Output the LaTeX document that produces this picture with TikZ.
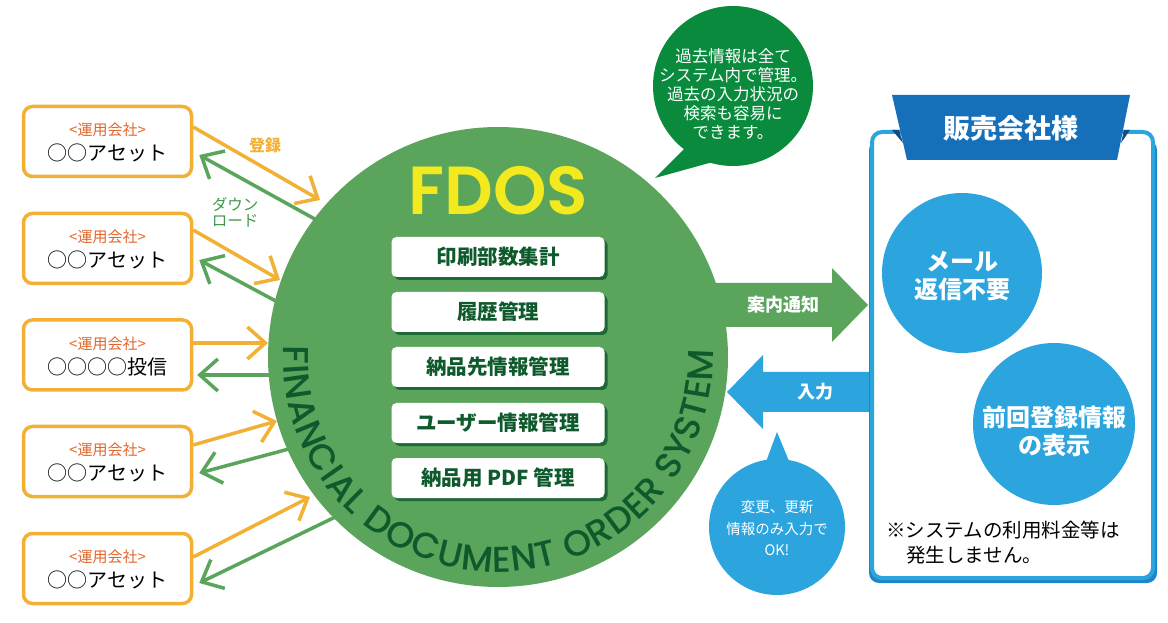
\documentclass[tikz,border=0pt]{standalone}
\usepackage{fontspec}
\setmainfont{Noto Sans CJK JP}
\newfontfamily\pop{Poppins}[UprightFont=* SemiBold]
\newfontfamily\popm{Poppins}[UprightFont=* Medium]
\usetikzlibrary{arrows.meta,decorations.text}
\definecolor{org}{HTML}{F2B134}
\definecolor{runyo}{HTML}{E2672C}
\definecolor{grn}{HTML}{5AA55B}
\definecolor{dkgrn}{HTML}{0E5A2C}
\definecolor{ylw}{HTML}{F2EA1F}
\definecolor{bgrn}{HTML}{0A8A3C}
\definecolor{blu}{HTML}{2CA5DE}
\definecolor{hblu}{HTML}{1670B9}
\definecolor{lgrn}{HTML}{3F9A4B}
\begin{document}
\begin{tikzpicture}[x=1pt,y=1pt,
  cbox/.style={draw=org, line width=3.5pt, rounded corners=9pt, fill=white, minimum width=168pt, minimum height=70pt, inner sep=0pt},
  sub/.style={text=runyo, font=\fontsize{15}{15}\selectfont, inner sep=0pt},
  nm/.style={text=black, font=\fontsize{20}{20}\selectfont, inner sep=0pt},
  oarr/.style={draw=org, line width=3.5pt, -{Straight Barb[length=18pt,width=32pt]}},
  garr/.style={draw=grn, line width=3.5pt, -{Straight Barb[length=18pt,width=32pt]}},
  fbox/.style={fill=white, rounded corners=5pt, minimum width=213pt, minimum height=40pt, text=dkgrn, font=\fontsize{20.5}{20.5}\selectfont\bfseries, inner sep=0pt},
  fshadow/.style={fill=dkgrn!80!grn, rounded corners=5pt, minimum width=213pt, minimum height=40pt, inner sep=0pt},
  bcirc/.style={circle, fill=blu, inner sep=0pt},
  btext/.style={text=white, font=\fontsize{24}{28}\selectfont\bfseries, align=center, inner sep=0pt},
  wlab/.style={text=white, font=\fontsize{18}{18}\selectfont\bfseries, inner sep=0pt}
]
\useasboundingbox (0,0) rectangle (1168,622);
\fill[white] (0,0) rectangle (1168,622);

% left company boxes
\node[cbox] (b1) at (107.5,480.5) {};
\node[cbox] (b2) at (107.5,373.5) {};
\node[cbox] (b3) at (107.5,267) {};
\node[cbox] (b4) at (107.5,160.5) {};
\node[cbox] (b5) at (107.5,53.5) {};
\foreach \b/\t in {b1/○○アセット, b2/○○アセット, b3/○○○○投信, b4/○○アセット, b5/○○アセット}{
  \node[sub] (\b s) at ([yshift=11.5pt]\b.center) {<運用会社>};
  \node[nm] (\b n) at ([yshift=-11.5pt]\b.center) {\t};
}

% endpoints on the circle side
\coordinate (t1) at (320,622-200);
\coordinate (t2) at (280,622-280);
\coordinate (t3) at (268,622-343);
\coordinate (t4) at (277,622-421);
\coordinate (t5) at (310,622-497);
\coordinate (g1) at (340,622-233);
\coordinate (g2) at (300,622-314);
\coordinate (g3) at (295,622-375);
\coordinate (g4) at (315,622-442);
\coordinate (g5) at (360,622-505);

% green download arrows (start hidden under circle)
\draw[garr] (g1) -- ([xshift=6pt,yshift=-13.5pt]b1.east);
\draw[garr] (g2) -- ([xshift=6pt,yshift=-11.5pt]b2.east);
\draw[garr] (g3) -- ([xshift=4pt,yshift=-20pt]b3.east);
\draw[garr] (g4) -- ([xshift=6pt,yshift=-11.5pt]b4.east);
\draw[garr] (g5) -- ([xshift=6pt,yshift=-14.5pt]b5.east);

% right green arrow
\fill[grn] (700,622-283) -- (832,622-283) -- (832,622-268) -- (868,622-305) -- (832,622-342) -- (832,622-327) -- (700,622-327) -- cycle;
\node[wlab] (annai) at (783,622-305) {案内通知};

% main circle
\node[circle, fill=grn, minimum size=460pt, inner sep=0pt] (C) at (498,265) {};
\node[text=ylw, font=\pop\fontsize{68}{68}\selectfont, inner sep=0pt] (fdos) at (498,622-191) {FDOS};

\foreach \n/\y/\t in {f1/257/印刷部数集計, f2/312/履歴管理, f3/367/納品先情報管理, f4/423/ユーザー情報管理, f5/478/納品用 PDF 管理}{
  \node[fshadow] at (501,622-\y-3) {};
  \node[fbox] (\n) at (498,622-\y) {\t};
}

\path[decorate, decoration={text along path, text align={fit to path},
  text color=dkgrn,
  text={|\popm\fontsize{36}{36}\selectfont|FINANCIAL DOCUMENT ORDER SYSTEM}}]
  ([shift={(177:215)}]C.center) arc[start angle=177, end angle=362, radius=215];

% orange registration arrows
\draw[oarr] ([yshift=14.5pt]b1.east) -- (t1);
\draw[oarr] ([yshift=18.5pt]b2.east) -- (t2);
\draw[oarr] ([yshift=12pt]b3.east) -- (t3);
\draw[oarr] ([yshift=16.5pt]b4.east) -- (t4);
\draw[oarr] ([yshift=11.5pt]b5.east) -- (t5);
\node[text=org, font=\fontsize{16}{16}\selectfont\bfseries, inner sep=0pt] (toroku) at (265,622-145) {登録};
\node[text=lgrn, font=\fontsize{15.5}{16}\selectfont, align=center, inner sep=0pt] (dl) at (235,622-212) {ダウン\\ロード};

% green speech bubble
\fill[bgrn] (733,622-86) circle (80);
\fill[bgrn] (688,622-145) -- (655,622-178) -- (720,622-160) -- cycle;
\node[text=white, font=\fontsize{16.5}{19}\selectfont, align=center, inner sep=0pt] (gb) at (733,622-94.5)
  {過去情報は全て\\システム内で管理。\\過去の入力状況の\\検索も容易に\\できます。};

% blue input arrow
\fill[blu] (872,622-372) -- (763,622-372) -- (763,622-355) -- (727,622-392) -- (763,622-429) -- (763,622-412) -- (872,622-412) -- cycle;
\node[wlab] (nyu) at (815,622-392) {入力};

% blue speech bubble
\fill[blu] (777,622-527) circle (68);
\fill[blu] (760,622-478) -- (777,622-432) -- (796,622-478) -- cycle;
\node[text=white, font=\fontsize{14.5}{21.5}\selectfont, align=center, inner sep=0pt] (bb) at (777,622-528.5)
  {変更、更新\\情報のみ入力で\\OK!};

% seller box
\fill[hblu!60!blu, rounded corners=10pt] (869,622-583) rectangle (1157,622-140);
\node[draw=blu, line width=4pt, rounded corners=10pt, fill=white, minimum width=281pt, minimum height=446pt, inner sep=0pt] (R) at (1012.5,622-355) {};
\fill[hblu] (892,622-95) -- (1130,622-95) -- (1117,622-160) -- (907,622-160) -- cycle;
\fill[hblu!70!black] (892,622-130) -- (899,622-130) -- (903,622-143) -- cycle;
\fill[hblu!70!black] (1130,622-130) -- (1124,622-130) -- (1121,622-143) -- cycle;
\node[text=white, font=\fontsize{27}{27}\selectfont\bfseries, inner sep=0pt] (hanbai) at (1011,622-128) {販売会社様};

\node[bcirc, minimum size=160pt] (c1) at (962,622-273) {};
\node[btext] (c1t) at (962,622-276) {メール\\返信不要};
\node[bcirc, minimum size=162pt] (c2) at (1054,622-424) {};
\node[btext] (c2t) at (1054,622-431) {前回登録情報\\の表示};

\node[anchor=west, text=black, font=\fontsize{19.5}{19.5}\selectfont, inner sep=0pt] (n1) at (886,622-530) {※システムの利用料金等は};
\node[anchor=west, text=black, font=\fontsize{19.5}{19.5}\selectfont, inner sep=0pt] (n2) at (906,622-555) {発生しません。};
\end{tikzpicture}
\end{document}
